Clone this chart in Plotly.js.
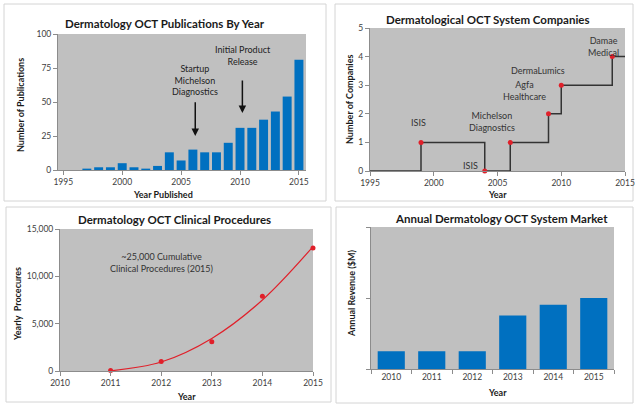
<!DOCTYPE html>
<html><head><meta charset="utf-8">
<script src="https://cdn.plot.ly/plotly-3.0.1.min.js"></script>
<style>html,body{margin:0;padding:0;background:#fff;}#chart{width:642px;height:408px;}</style>
</head><body><div id="chart"></div>
<script>
// Panel 1: publications per year
const pubYears = [1997,1998,1999,2000,2001,2002,2003,2004,2005,2006,2007,2008,2009,2010,2011,2012,2013,2014,2015];
const pubCounts = [1,2,2,5,2,1,3,13,7,15,13,13,20,31,31,37,43,54,81];
// Panel 2: companies step chart
const coYears = [1995,1999,2004,2006,2009,2010,2014,2015];
const coCounts = [0,1,0,1,2,3,4,4];
const eventYears = [1999,2004,2006,2009,2010,2014];
const eventCounts = [1,0,1,2,3,4];
const eventLabels = ['ISIS','ISIS','Michelson<br>Diagnostics','Agfa<br>Healthcare','DermaLumics','Damae<br>Medical'];
// Panel 3: clinical procedures
const procYears = [2011,2012,2013,2014,2015];
const procValues = [50,1000,3100,7900,13000];
const procTrend = [20,950,3440,7500,13140];
// Panel 4: market revenue (relative)
const mktYears = ['2010','2011','2012','2013','2014','2015'];
const mktValues = [0.25,0.25,0.25,0.755,0.905,1.0];

const W=642,H=408;
const px = v => v/W;
const py = v => 1 - v/H;
const FONT = 'Lato, "Open Sans", sans-serif';
const TICKC = '#404040';
const AXC = '#8c8c8c';
const BG = '#c0c0c0';
const BLUE = '#0070c0';
const RED = '#e0202a';

function axisBase(extra){
  return Object.assign({showline:true, linecolor:AXC, linewidth:1, ticks:'outside', ticklen:4, tickcolor:AXC,
    showgrid:false, zeroline:false, tickfont:{family:FONT,size:8.5,color:TICKC}, fixedrange:true}, extra);
}

const traces = [
  {type:'bar', x:pubYears, y:pubCounts, width:0.76, marker:{color:BLUE}, xaxis:'x', yaxis:'y', hoverinfo:'skip'},
  {type:'scatter', mode:'lines', x:coYears, y:coCounts, line:{shape:'hv', color:'#333333', width:1.5}, xaxis:'x2', yaxis:'y2', hoverinfo:'skip', cliponaxis:false},
  {type:'scatter', mode:'markers', x:eventYears, y:eventCounts, marker:{color:RED, size:5}, xaxis:'x2', yaxis:'y2', hoverinfo:'skip', cliponaxis:false},
  {type:'scatter', mode:'lines', x:procYears, y:procTrend, line:{shape:'spline', color:RED, width:1.2}, xaxis:'x3', yaxis:'y3', hoverinfo:'skip', cliponaxis:false},
  {type:'scatter', mode:'markers', x:procYears, y:procValues, marker:{color:RED, size:5}, xaxis:'x3', yaxis:'y3', hoverinfo:'skip', cliponaxis:false},
  {type:'bar', x:mktYears, y:mktValues, marker:{color:BLUE}, xaxis:'x4', yaxis:'y4', hoverinfo:'skip'}
];

function frame(x0,y0,x1,y1){
  return {type:'rect', xref:'paper', yref:'paper', x0:px(x0), x1:px(x1), y0:py(y1), y1:py(y0),
    line:{color:'#d4d4d4', width:1}, fillcolor:'#ffffff', layer:'below'};
}
function title(text,x,y){
  return {xref:'paper', yref:'paper', x:px(x), y:py(y), text:'<b>'+text+'</b>', showarrow:false,
    xanchor:'center', yanchor:'middle', font:{family:FONT,size:11.5,color:'#1a1a1a'}};
}
function ytitle(text,x,y){
  return {xref:'paper', yref:'paper', x:px(x), y:py(y), text:'<b>'+text+'</b>', showarrow:false, textangle:-90,
    xanchor:'center', yanchor:'middle', font:{family:FONT,size:9,color:'#1a1a1a'}};
}
function xtitle(text,x,y){
  return {xref:'paper', yref:'paper', x:px(x), y:py(y), text:'<b>'+text+'</b>', showarrow:false,
    xanchor:'center', yanchor:'middle', font:{family:FONT,size:9,color:'#1a1a1a'}};
}

const labelPos = [[1998.8,1.68],[2002.9,0.18],[2004.6,1.73],[2007.1,2.8],[2008.2,3.5],[2013.3,4.37]];
const eventAnns = eventLabels.map((t,i)=>({xref:'x2', yref:'y2', x:labelPos[i][0], y:labelPos[i][1], text:t, showarrow:false,
  font:{family:FONT,size:9,color:'#333333'}, xanchor:'center', yanchor:'middle'}));

const layout = {
  width:W, height:H, margin:{l:0,r:0,t:0,b:0}, paper_bgcolor:'#ffffff', showlegend:false, bargap:0.33,
  font:{family:FONT},
  xaxis: axisBase({domain:[px(58),px(306)], anchor:'y', range:[1994.55,2015.6], tickvals:[1995,2000,2005,2010,2015]}),
  yaxis: axisBase({domain:[py(170),py(34)], anchor:'x', range:[0,100], tickvals:[0,25,50,75,100]}),
  xaxis2: axisBase({domain:[px(370),px(625)], anchor:'y2', range:[1995,2015], tickvals:[1995,2000,2005,2010,2015]}),
  yaxis2: axisBase({domain:[py(171),py(28)], anchor:'x2', range:[0,5], dtick:1}),
  xaxis3: axisBase({domain:[px(60),px(313)], anchor:'y3', range:[2010,2015], dtick:1}),
  yaxis3: axisBase({domain:[py(371),py(229)], anchor:'x3', range:[0,15000], tickvals:[0,5000,10000,15000], tickformat:',.0f'}),
  xaxis4: axisBase({domain:[px(371),px(614)], anchor:'y4', type:'category', tickson:'boundaries'}),
  yaxis4: axisBase({domain:[py(369),py(227)], anchor:'x4', range:[0,2], tickvals:[0,1,2], showticklabels:false}),
  plot_bgcolor:BG,
  shapes:[
    frame(4,4,326,201), frame(335,4,633,201), frame(6,207,331,402), frame(336,207,633,403),
    {type:'rect', xref:'paper', yref:'paper', x0:px(58), x1:px(306), y0:py(170), y1:py(34), fillcolor:BG, line:{width:0}, layer:'below'},
    {type:'rect', xref:'paper', yref:'paper', x0:px(370), x1:px(625), y0:py(171), y1:py(28), fillcolor:BG, line:{width:0}, layer:'below'},
    {type:'rect', xref:'paper', yref:'paper', x0:px(60), x1:px(313), y0:py(371), y1:py(229), fillcolor:BG, line:{width:0}, layer:'below'},
    {type:'rect', xref:'paper', yref:'paper', x0:px(371), x1:px(614), y0:py(369), y1:py(227), fillcolor:BG, line:{width:0}, layer:'below'}
  ],
  annotations:[
    title('Dermatology OCT Publications By Year',165,23),
    title('Dermatological OCT System Companies',488,19),
    title('Dermatology OCT Clinical Procedures',175,219),
    title('Annual Dermatology OCT System Market',501,218),
    ytitle('Number of Publications',21,105),
    xtitle('Year Published',163,194),
    ytitle('Number of Companies',349,100),
    xtitle('Year',497,194),
    ytitle('Yearly  Procecures',17,304),
    xtitle('Year',187,396),
    ytitle('Annual Revenue ($M)',351,294),
    xtitle('Year',497,392),
    {xref:'x', yref:'y', x:2006.2, y:25, ax:2006.2, ay:51, axref:'x', ayref:'y', showarrow:true, arrowhead:2, arrowsize:1, arrowwidth:1.5, arrowcolor:'#111', text:''},
    {xref:'x', yref:'y', x:2006.2, y:66, text:'Startup<br>Michelson<br>Diagnostics', showarrow:false, font:{family:FONT,size:9,color:'#222'}},
    {xref:'x', yref:'y', x:2010.2, y:42, ax:2010.2, ay:67, axref:'x', ayref:'y', showarrow:true, arrowhead:2, arrowsize:1, arrowwidth:1.5, arrowcolor:'#111', text:''},
    {xref:'x', yref:'y', x:2010.25, y:84, text:'Initial Product<br>Release', showarrow:false, font:{family:FONT,size:9,color:'#222'}},
    {xref:'x3', yref:'y3', x:2012.0, y:11500, text:'~25,000 Cumulative<br>Clinical Procedures (2015)', showarrow:false, font:{family:FONT,size:9,color:'#333'}}
  ].concat(eventAnns)
};

Plotly.newPlot('chart', traces, layout, {staticPlot:true});
</script>
</body></html>
